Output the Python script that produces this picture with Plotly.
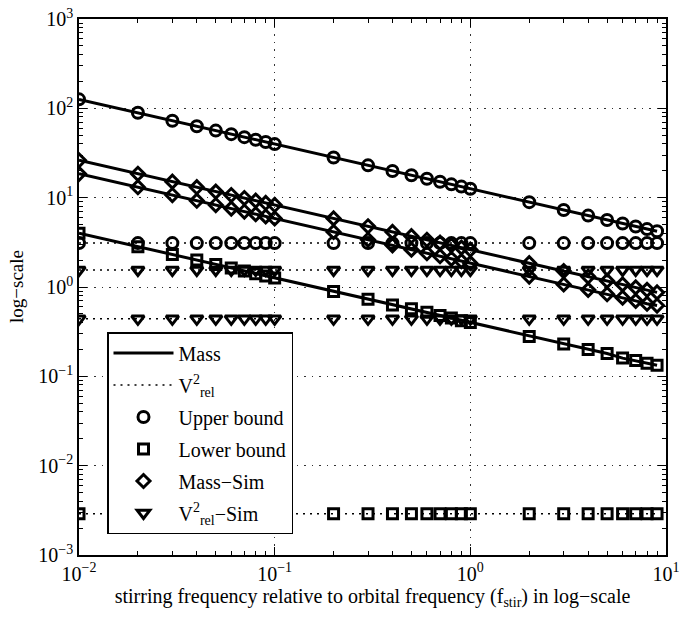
import plotly.graph_objects as go

# ---------------- data ----------------
x = [0.01, 0.02, 0.03, 0.04, 0.05, 0.06, 0.07, 0.08, 0.09,
     0.1, 0.2, 0.3, 0.4, 0.5, 0.6, 0.7, 0.8, 0.9,
     1, 2, 3, 4, 5, 6, 7, 8, 9]

upper_mass = [126, 89.1, 72.7, 63.0, 56.3, 51.4, 47.6, 44.5, 42.0,
              39.8, 28.2, 23.0, 19.9, 17.8, 16.3, 15.1, 14.1, 13.3,
              12.6, 8.91, 7.27, 6.30, 5.63, 5.14, 4.76, 4.45, 4.20]
upper_v2 = [3.1, 3.1, 3.1, 3.1, 3.1, 3.1, 3.1, 3.1, 3.1,
            3.1, 3.1, 3.1, 3.1, 3.1, 3.1, 3.1, 3.1, 3.1,
            3.1, 3.1, 3.1, 3.1, 3.1, 3.1, 3.1, 3.1, 3.1]
lower_mass = [4.0, 2.83, 2.31, 2.0, 1.79, 1.63, 1.51, 1.41, 1.33,
              1.26, 0.89, 0.73, 0.63, 0.57, 0.52, 0.48, 0.45, 0.42,
              0.40, 0.28, 0.23, 0.20, 0.18, 0.16, 0.15, 0.14, 0.133]
lower_v2 = [0.0029, 0.0029, 0.0029, 0.0029, 0.0029, 0.0029, 0.0029, 0.0029, 0.0029,
            0.0029, 0.0029, 0.0029, 0.0029, 0.0029, 0.0029, 0.0029, 0.0029, 0.0029,
            0.0029, 0.0029, 0.0029, 0.0029, 0.0029, 0.0029, 0.0029, 0.0029, 0.0029]
mass_sim_a = [26.2, 18.5, 15.1, 13.1, 11.7, 10.7, 9.9, 9.26, 8.73,
              8.28, 5.86, 4.78, 4.14, 3.70, 3.38, 3.13, 2.93, 2.76,
              2.62, 1.85, 1.51, 1.31, 1.17, 1.07, 0.99, 0.93, 0.87]
mass_sim_b = [18.5, 13.1, 10.7, 9.25, 8.27, 7.55, 6.99, 6.54, 6.17,
              5.85, 4.14, 3.38, 2.93, 2.62, 2.39, 2.21, 2.07, 1.95,
              1.85, 1.31, 1.07, 0.93, 0.83, 0.76, 0.70, 0.65, 0.62]
v2_sim_a = [1.55, 1.55, 1.55, 1.55, 1.55, 1.55, 1.55, 1.55, 1.55,
            1.55, 1.55, 1.55, 1.55, 1.55, 1.55, 1.55, 1.55, 1.55,
            1.55, 1.55, 1.55, 1.55, 1.55, 1.55, 1.55, 1.55, 1.55]
v2_sim_b = [0.44, 0.44, 0.44, 0.44, 0.44, 0.44, 0.44, 0.44, 0.44,
            0.44, 0.44, 0.44, 0.44, 0.44, 0.44, 0.44, 0.44, 0.44,
            0.44, 0.44, 0.44, 0.44, 0.44, 0.44, 0.44, 0.44, 0.44]

x_tickvals = [0.01, 0.1, 1, 10]
x_ticktext = ["10<sup>−2</sup>", "10<sup>−1</sup>", "10<sup>0</sup>", "10<sup>1</sup>"]
y_tickvals = [0.001, 0.01, 0.1, 1, 10, 100, 1000]
y_ticktext = ["10<sup>−3</sup>", "10<sup>−2</sup>", "10<sup>−1</sup>", "10<sup>0</sup>",
              "10<sup>1</sup>", "10<sup>2</sup>", "10<sup>3</sup>"]

legend_labels = ["Mass", "V<sup>2</sup><sub>rel</sub>", "Upper bound", "Lower bound",
                 "Mass−Sim", "V<sup>2</sup><sub>rel</sub>−Sim"]
x_title = "stirring frequency relative to orbital frequency (f<sub>stir</sub>) in log−scale"
y_title = "log−scale"

FONT = "Liberation Serif, Times New Roman, serif"
BLACK = "black"

fig = go.Figure()

# solid "Mass" lines
solid_series = [upper_mass, mass_sim_a, mass_sim_b, lower_mass]
for i, ys in enumerate(solid_series):
    fig.add_trace(go.Scatter(x=x, y=ys, mode="lines",
                             line=dict(color=BLACK, width=3),
                             name=legend_labels[0], legendgroup="mass",
                             showlegend=(i == 0), legendrank=1))
# dotted "V2" lines
dotted_series = [upper_v2, v2_sim_a, v2_sim_b, lower_v2]
for i, ys in enumerate(dotted_series):
    fig.add_trace(go.Scatter(x=x, y=ys, mode="lines",
                             line=dict(color=BLACK, width=1.5, dash="2px,5px"),
                             name=legend_labels[1], legendgroup="v2",
                             showlegend=(i == 0), legendrank=2))

marker_groups = [
    ([upper_mass, upper_v2], "circle-open", 11, legend_labels[2], 3),
    ([lower_mass, lower_v2], "square-open", 10, legend_labels[3], 4),
    ([mass_sim_a, mass_sim_b], "diamond-open", 10, legend_labels[4], 5),
    ([v2_sim_a, v2_sim_b], "triangle-down-open", 11, legend_labels[5], 6),
]
for series, sym, size, label, rank in marker_groups:
    for i, ys in enumerate(series):
        fig.add_trace(go.Scatter(x=x, y=ys, mode="markers",
                                 marker=dict(symbol=sym, size=size, color=BLACK,
                                             line=dict(color=BLACK, width=3)),
                                 name=label, legendgroup=label,
                                 showlegend=(i == 0), legendrank=rank))

x_minor = [m * 10.0 ** e for e in (-2, -1, 0) for m in range(2, 10)]
y_minor = [m * 10.0 ** e for e in (-3, -2, -1, 0, 1, 2) for m in range(2, 10)]

axis_common = dict(
    type="log",
    automargin=False,
    ticklabeloverflow="allow",
    showline=True, linecolor=BLACK, linewidth=1.5,
    mirror="ticks",
    ticks="inside", ticklen=8, tickwidth=1, tickcolor=BLACK,
    showgrid=True, gridcolor="#333", gridwidth=1, griddash="1.5px,6px",
    zeroline=False,
    tickfont=dict(family=FONT, size=20, color=BLACK),
)

fig.update_layout(
    width=680, height=622,
    margin=dict(l=79, r=14, t=19, b=67),
    paper_bgcolor="white", plot_bgcolor="white",
    font=dict(family=FONT, color=BLACK),
    xaxis=dict(range=[-2, 1], tickmode="array", tickvals=x_tickvals, ticktext=x_ticktext,
               minor=dict(tickmode="array", tickvals=x_minor, ticks="inside",
                          ticklen=4, tickcolor=BLACK, showgrid=False),
               title=dict(text=x_title,
                          font=dict(family=FONT, size=20, color=BLACK), standoff=4),
               **axis_common),
    yaxis=dict(range=[-3, 3], tickmode="array", tickvals=y_tickvals, ticktext=y_ticktext,
               minor=dict(tickmode="array", tickvals=y_minor, ticks="inside",
                          ticklen=4, tickcolor=BLACK, showgrid=False),
               **axis_common),
    legend=dict(x=(107 - 79) / 587, y=(555 - 332) / 536, xanchor="left", yanchor="top",
                bordercolor=BLACK, borderwidth=1.5, bgcolor="white",
                font=dict(family=FONT, size=20, color=BLACK),
                itemwidth=60, tracegroupgap=3),
    showlegend=True,
    annotations=[dict(text=y_title, xref="paper", yref="paper",
                      x=(16 - 79) / 587, y=0.5, xanchor="center", yanchor="middle",
                      textangle=-90, showarrow=False,
                      font=dict(family=FONT, size=19, color=BLACK))],
)

fig.write_html("out.html")
